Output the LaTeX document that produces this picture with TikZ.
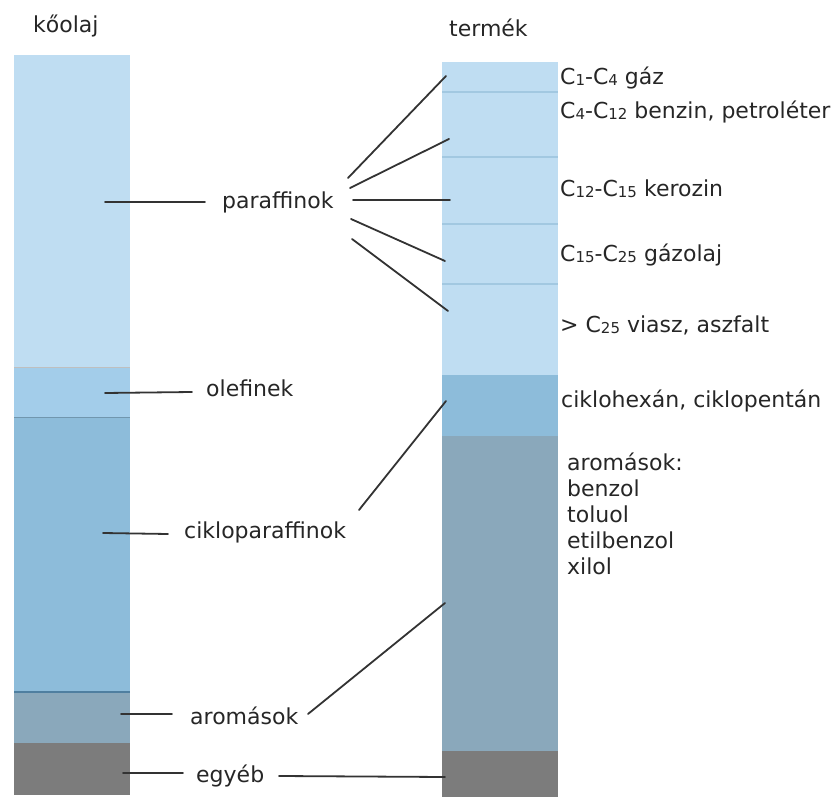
\documentclass[tikz,border=0pt]{standalone}
\usepackage{fontspec}
\setmainfont{DejaVu Sans}
\newcommand\sbs[1]{\raisebox{-0.5pt}{\fontsize{15}{15}\selectfont #1}}
\definecolor{cpar}{HTML}{BFDDF2}
\definecolor{cole}{HTML}{A3CDEA}
\definecolor{ccyc}{HTML}{8DBCDA}
\definecolor{caro}{HTML}{8AA8BB}
\definecolor{coth}{HTML}{7C7C7C}
\definecolor{csep}{HTML}{A2C8E1}
\definecolor{cdiv}{HTML}{4F7FA0}
\definecolor{cline}{HTML}{333333}
\begin{document}
\begin{tikzpicture}[x=1pt,y=-1pt,
  lab/.style={anchor=base west,inner sep=0pt,font=\fontsize{22}{26}\selectfont,text=black!85},
  conn/.style={draw=cline,line width=1.8pt,line cap=round}]
\useasboundingbox (0,0) rectangle (838,799);
% left column
\fill[cpar] (14,55) rectangle (130,368);
\fill[cole] (14,368) rectangle (130,417);
\fill[ccyc] (14,417) rectangle (130,692);
\fill[caro] (14,692) rectangle (130,743);
\fill[coth] (14,743) rectangle (130,795);
\draw[black!25,line width=1pt] (14,368) -- (130,368);
\draw[ccyc!80!black,line width=0.8pt] (14,417) -- (130,417);
\draw[cdiv,line width=2pt] (14,692) -- (130,692);
% right column
\fill[cpar] (442,62) rectangle (558,375);
\fill[ccyc] (442,375) rectangle (558,436);
\fill[caro] (442,436) rectangle (558,751);
\fill[coth] (442,751) rectangle (558,797);
\foreach \yy in {92,157,224,284}
  \draw[csep,line width=1.5pt] (442,\yy) -- (558,\yy);
% headings
\node[lab] (hk) at (33,33) {kőolaj};
\node[lab] (ht) at (449,37) {termék};
% left labels
\node[lab] (par) at (222,209) {paraffinok};
\node[lab] (ole) at (206,397) {olefinek};
\node[lab] (cyc) at (184,538) {cikloparaffinok};
\node[lab] (aro) at (190,724) {aromások};
\node[lab] (oth) at (196,782) {egyéb};
% right labels
\node[lab] (r1) at (560,85) {C\sbs{1}-C\sbs{4} gáz};
\node[lab] (r2) at (560,119) {C\sbs{4}-C\sbs{12} benzin, petroléter};
\node[lab] (r3) at (560,197) {C\sbs{12}-C\sbs{15} kerozin};
\node[lab] (r4) at (560,262) {C\sbs{15}-C\sbs{25} gázolaj};
\node[lab] (r5) at (560,333) {> C\sbs{25} viasz, aszfalt};
\node[lab] (r6) at (561,408) {ciklohexán, ciklopentán};
\node[lab,align=left,anchor=north west] (r7) at (567,453)
  {\fontsize{22}{28}\selectfont aromások:\\benzol\\toluol\\etilbenzol\\xilol};
% coordinates
\coordinate (parLa) at (205,202); \coordinate (parLb) at (105,202);
\coordinate (oleLa) at (192,392); \coordinate (oleLb) at (105,393);
\coordinate (cycLa) at (168,534); \coordinate (cycLb) at (103,533);
\coordinate (aroLa) at (172,714); \coordinate (aroLb) at (121,714);
\coordinate (othLa) at (183,773); \coordinate (othLb) at (123,773);
\coordinate (f1a) at (348,178); \coordinate (f1b) at (446,76);
\coordinate (f2a) at (350,188); \coordinate (f2b) at (449,139);
\coordinate (f3a) at (353,200); \coordinate (f3b) at (450,200);
\coordinate (f4a) at (351,219); \coordinate (f4b) at (445,261);
\coordinate (f5a) at (352,239); \coordinate (f5b) at (448,311);
\coordinate (cycRa) at (359,510); \coordinate (cycRb) at (446,401);
\coordinate (aroRa) at (308,714); \coordinate (aroRb) at (445,603);
\coordinate (othRa) at (279,776); \coordinate (othRb) at (445,777);
% connectors
\foreach \a/\b in {parLa/parLb,oleLa/oleLb,cycLa/cycLb,aroLa/aroLb,othLa/othLb,
  f1a/f1b,f2a/f2b,f3a/f3b,f4a/f4b,f5a/f5b,cycRa/cycRb,aroRa/aroRb,othRa/othRb}
  \draw[conn] (\a) -- (\b);
\end{tikzpicture}
\end{document}
